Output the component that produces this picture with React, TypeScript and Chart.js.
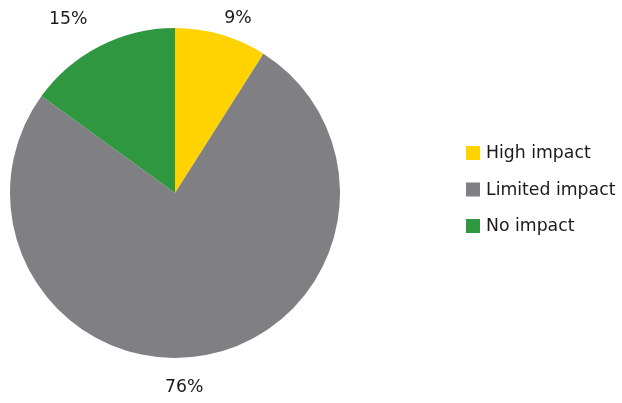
import React, { useEffect, useRef } from "react";
import { Chart, registerables } from "chart.js";

Chart.register(...registerables);

const categories = ["High impact", "Limited impact", "No impact"];
const values = [9, 76, 15];
const valueLabels = ["9%", "76%", "15%"];
const colors = ["#FFD200", "#808084", "#2E973F"];

const FONT = "'DejaVu Sans', sans-serif";

// label placement (angle in degrees from top, clockwise; distance from center)
const labelPlacement = [
  { angle: 19.8, dist: 186 },
  { angle: 177.3, dist: 194 },
  { angle: -31.4, dist: 205 },
];

const outerLabels = {
  id: "outerLabels",
  afterDraw(chart: any) {
    const ctx = chart.ctx;
    const meta = chart.getDatasetMeta(0);
    const arc = meta.data[0];
    if (!arc) return;
    const cx = arc.x;
    const cy = arc.y;
    ctx.save();
    ctx.font = `17.3px ${FONT}`;
    ctx.fillStyle = "#1a1a1a";
    ctx.textAlign = "center";
    ctx.textBaseline = "middle";
    valueLabels.forEach((t, i) => {
      const p = labelPlacement[i];
      const a = (p.angle * Math.PI) / 180;
      ctx.fillText(t, cx + p.dist * Math.sin(a), cy - p.dist * Math.cos(a) + 1);
    });
    ctx.restore();
  },
};

const sideLegend = {
  id: "sideLegend",
  afterDraw(chart: any) {
    const ctx = chart.ctx;
    ctx.save();
    ctx.font = `17.3px ${FONT}`;
    ctx.textAlign = "left";
    ctx.textBaseline = "middle";
    const x0 = 466;
    const y0 = 153;
    const step = 36.5;
    categories.forEach((c, i) => {
      const y = y0 + i * step;
      ctx.fillStyle = colors[i];
      ctx.fillRect(x0, y - 7, 14, 14);
      ctx.fillStyle = "#1a1a1a";
      ctx.fillText(c, x0 + 20, y + 1);
    });
    ctx.restore();
  },
};

export default function App() {
  const ref = useRef<HTMLCanvasElement>(null);
  useEffect(() => {
    if (!ref.current) return;
    const chart = new Chart(ref.current, {
      type: "pie",
      data: {
        labels: categories,
        datasets: [
          {
            data: values,
            backgroundColor: colors,
            borderWidth: 0,
          },
        ],
      },
      options: {
        responsive: false,
        animation: false,
        layout: { padding: { left: 10, right: 282, top: 28, bottom: 45 } },
        plugins: {
          legend: { display: false },
          tooltip: { enabled: false },
        },
      },
      plugins: [outerLabels, sideLegend],
    });
    return () => chart.destroy();
  }, []);
  return (
    <div style={{ position: "fixed", left: 0, top: 0, width: 622, height: 403, background: "#fff" }}>
      <canvas ref={ref} width={622} height={403} style={{ width: 622, height: 403 }} />
    </div>
  );
}
